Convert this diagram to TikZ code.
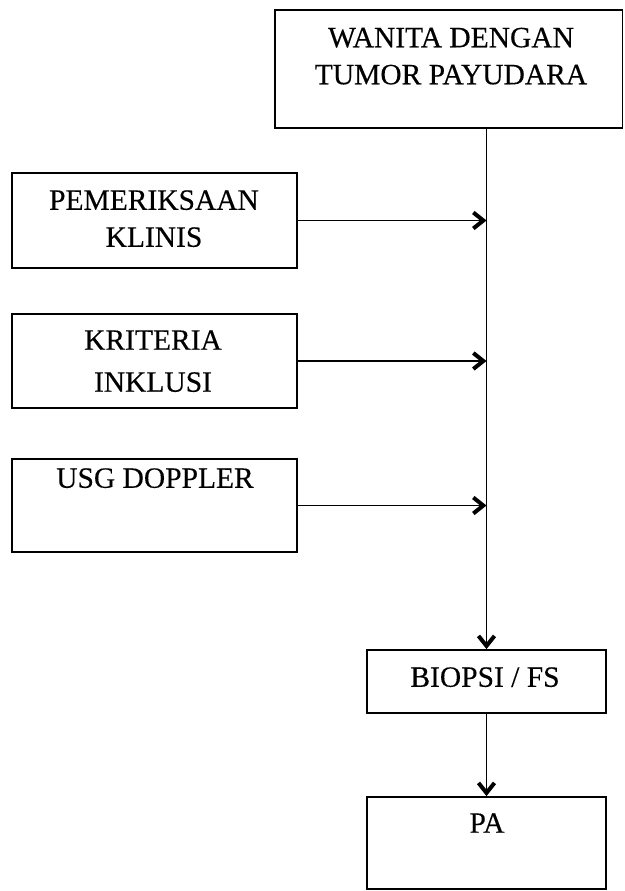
\documentclass[tikz,border=0pt]{standalone}
\usepackage{fontspec}
\setmainfont{Liberation Serif}[FakeBold=0.3]
\usetikzlibrary{arrows.meta,fit}
\tikzset{
  box/.style={draw,line width=1.8pt,inner sep=0pt},
  txt/.style={inner sep=0pt,align=center,text depth=0pt},
  conn/.style={line width=1.6pt,-{Straight Barb[length=10pt,width=16pt,line width=4pt]}},
}
\newcommand{\fs}[1]{\fontsize{29.5}{#1}\selectfont}
\begin{document}
\begin{tikzpicture}[x=1pt,y=1pt]
\useasboundingbox (0,0) rectangle (624,-891);
% boxes
\node[box,fit={(275,-10) (622.5,-128)}] (top) {};
\node[box,fit={(12,-173) (297,-268)}] (pem) {};
\node[box,fit={(12,-314) (297,-408)}] (krit) {};
\node[box,fit={(12,-459) (297,-552)}] (usg) {};
\node[box,fit={(367,-650) (606,-713)}] (biopsi) {};
\node[box,fit={(367,-797) (606,-889)}] (pa) {};
% texts
\node[txt,font=\fs{37}] (toptxt) at (451,-56) {WANITA DENGAN\\TUMOR PAYUDARA};
\node[txt,font=\fs{37}] (pemtxt) at (154,-218.5) {PEMERIKSAAN\\KLINIS};
\node[txt,font=\fs{42}] (krittxt) at (153,-361) {KRITERIA\\INKLUSI};
\node[txt,font=\fs{37}] (usgtxt) at (155,-478) {USG DOPPLER};
\node[txt,font=\fs{37}] (biopsitxt) at (485,-677) {BIOPSI / FS};
\node[txt,font=\fs{37}] (patxt) at (487,-823) {PA};
% connectors
\coordinate (trunk) at (biopsi.north |- top.south);
\draw[conn] (trunk) -- (biopsi.north);
\draw[conn] (pem.east) -- (pem.east -| biopsi.north);
\draw[conn] (krit.east) -- (krit.east -| biopsi.north);
\draw[conn] (usg.east) -- (usg.east -| biopsi.north);
\draw[conn] (biopsi.south) -- (pa.north);
\end{tikzpicture}
\end{document}
